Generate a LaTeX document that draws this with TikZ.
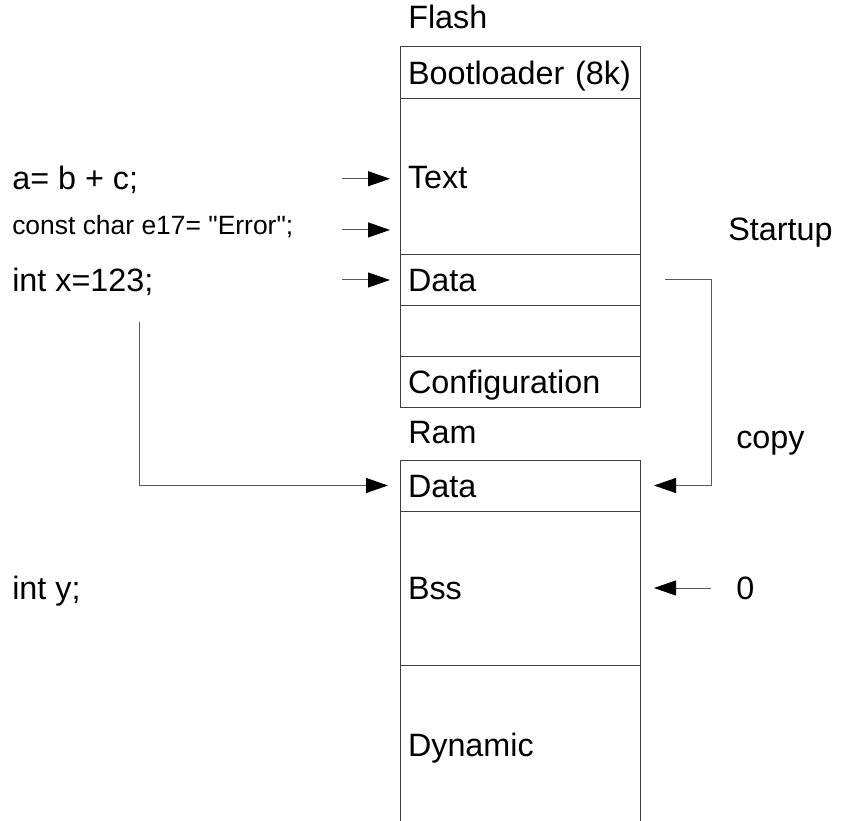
\documentclass[tikz,border=0pt]{standalone}
\usepackage{fontspec}
\newfontfamily\memfamily{Liberation Sans}
\usetikzlibrary{positioning,arrows.meta}
\newcommand{\memfont}{\memfamily\fontsize{23}{27}\selectfont}
\newcommand{\memsmall}{\memfamily\fontsize{18.8}{22}\selectfont}
\tikzset{
  row/.style={draw=black!75, line width=0.7pt, rectangle, outer sep=0pt,
    inner xsep=0.2cm, text width=5.6cm, align=left, minimum height=#1,
    font=\memfont, text height=0.58cm, text depth=0pt},
  lbl/.style={anchor=west, inner sep=0pt, font=\memfont, text height=0.58cm, text depth=0pt},
  small/.style={anchor=west, inner sep=0pt, font=\memsmall, text height=0.48cm, text depth=0pt},
  arr/.style={draw=black!65, line width=0.7pt, -{Triangle[length=0.55cm,width=0.375cm,color=black]}}
}
\begin{document}
\begin{tikzpicture}
  \useasboundingbox (0,0) rectangle (21.05,20.5);
  %%%%%%%%%%%%%The flash%%%%%%%%%%%%%%%%%%%%%%
  \node[row=1.2875cm, anchor=north west] (boot) at (10,19.325) {Bootloader (8k)};
  \node[row=3.9125cm, below=0pt of boot] (text) {Text};
  \node[row=1.25cm, below=0pt of text] (fdata) {Data};
  \node[row=1.275cm, below=0pt of fdata] (empty) {};
  \node[row=1.275cm, below=0pt of empty] (config) {Configuration};
  \node[lbl] (flash) at ([xshift=0.2cm,yshift=0.75cm]boot.north west) {Flash};

  %%%%%%%%%%%%%The ram%%%%%%%%%%%%%%%%%%%%%%
  \node[row=1.275cm, anchor=north west] (rdata) at (10,9) {Data};
  \node[row=3.85cm, below=0pt of rdata] (bss) {Bss};
  \node[row=4cm, below=0pt of bss] (dyn) {Dynamic};
  \node[lbl] (ram) at ([xshift=0.2cm,yshift=0.7cm]rdata.north west) {Ram};

  %%%%%%%%%%%%%The code%%%%%%%%%%%%%%%%%%%%%%
  \node[lbl] (sum) at (0.3,16.05) {a= b + c;};
  \node[small] (str) at (0.3,14.875) {const char e17= "Error";};
  \node[lbl] (intx) at (0.3,13.5) {int x=123;};
  \node[lbl] (inty) at (0.3,5.8) {int y;};
  \coordinate (xfrom) at (3.475,12.45);

  \draw[arr] ([xshift=-1.45cm,yshift=-0.05cm]text.west) -- ([xshift=-0.25cm,yshift=-0.05cm]text.west);
  \draw[arr] ([xshift=-1.45cm,yshift=-1.33cm]text.west) -- ([xshift=-0.25cm,yshift=-1.33cm]text.west);
  \draw[arr] ([xshift=-1.45cm]fdata.west) -- ([xshift=-0.25cm]fdata.west);
  \draw[arr] (xfrom) |- ([xshift=-0.3cm]rdata.west);

  %%%%%%%%%%%%%The startup%%%%%%%%%%%%%%%%%%%%%%
  \node[lbl] (startup) at (18.2,14.775) {Startup};
  \node[lbl] (copy) at (18.4,9.575) {copy};
  \node[lbl, right=2.4cm of bss] (zero) {0};

  \draw[arr] ([xshift=0.625cm]fdata.east) -- ++(1.15,0) |- ([xshift=0.35cm]rdata.east);
  \draw[arr] ([xshift=-0.625cm]zero.west) -- ([xshift=0.35cm]bss.east);
\end{tikzpicture}
\end{document}
